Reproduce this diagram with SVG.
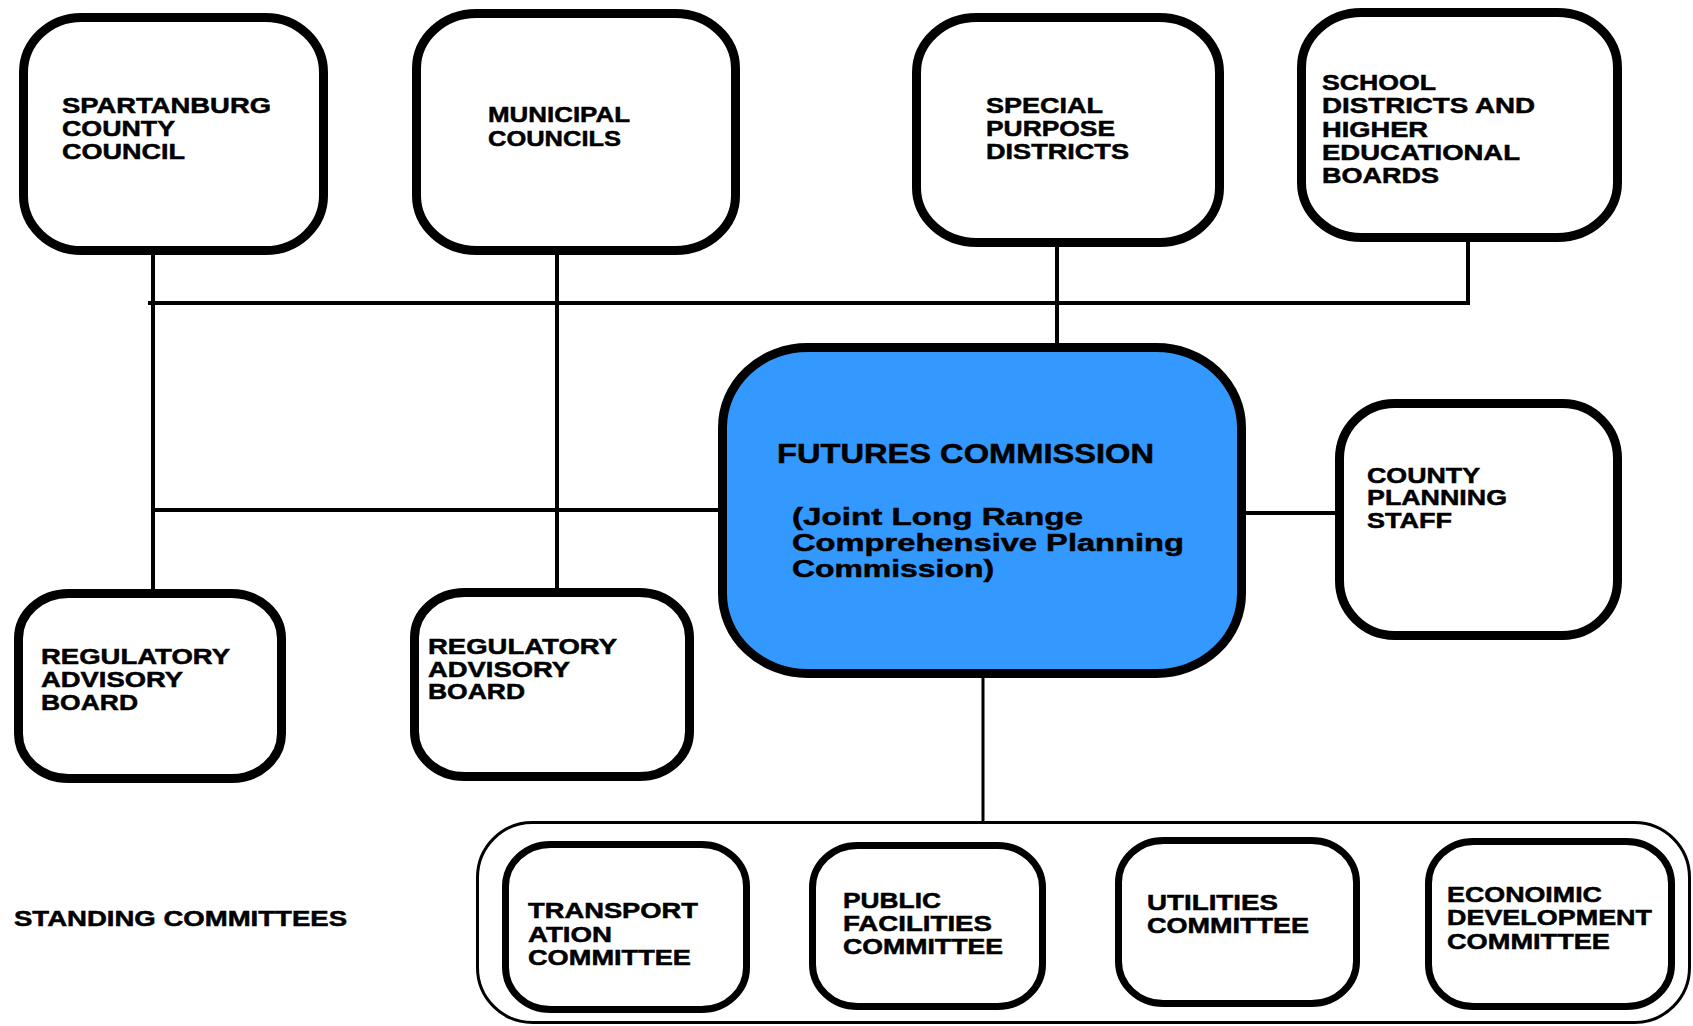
<svg xmlns="http://www.w3.org/2000/svg" width="1693" height="1026" viewBox="0 0 1693 1026">
<style>
.box{fill:#fff;stroke:#000;stroke-width:9}
.cbox{fill:#fff;stroke:#000;stroke-width:7}
.fut{fill:#3399ff;stroke:#000;stroke-width:9}
.outer{fill:none;stroke:#000;stroke-width:3}
.ln{stroke:#000;stroke-width:4;fill:none}
text{font-family:"Liberation Sans",Arial,sans-serif;font-weight:bold;font-size:22px;fill:#000;stroke:#000;stroke-width:0.5}
.big{font-size:27px}
.mid{font-size:24px}
</style>
<rect width="1693" height="1026" fill="#fff"/>
<g id="connectors">
<line class="ln" x1="148" y1="303" x2="1468" y2="303"/>
<line class="ln" x1="153" y1="255" x2="153" y2="592"/>
<line class="ln" x1="557" y1="245" x2="557" y2="590"/>
<line class="ln" x1="1057" y1="247" x2="1057" y2="345"/>
<line class="ln" x1="1468" y1="229" x2="1468" y2="305"/>
<line class="ln" x1="153" y1="510" x2="720" y2="510"/>
<line class="ln" x1="1246" y1="513" x2="1337" y2="513"/>
<line class="ln" style="stroke-width:3" x1="983" y1="668" x2="983" y2="823"/>
</g>
<g id="spartanburg">
<rect class="box" x="23.5" y="17.5" width="300" height="233" rx="58" ry="55"/>
<text x="62" y="113" textLength="209" lengthAdjust="spacingAndGlyphs">SPARTANBURG</text>
<text x="62" y="136" textLength="113" lengthAdjust="spacingAndGlyphs">COUNTY</text>
<text x="62" y="159" textLength="123" lengthAdjust="spacingAndGlyphs">COUNCIL</text>
</g>
<g id="municipal">
<rect class="box" x="416.5" y="13.5" width="319" height="237" rx="60" ry="55"/>
<text x="488" y="122" textLength="142" lengthAdjust="spacingAndGlyphs">MUNICIPAL</text>
<text x="488" y="146" textLength="133" lengthAdjust="spacingAndGlyphs">COUNCILS</text>
</g>
<g id="special">
<rect class="box" x="916.5" y="17.5" width="303" height="225" rx="60" ry="55"/>
<text x="986" y="113" textLength="117" lengthAdjust="spacingAndGlyphs">SPECIAL</text>
<text x="986" y="136" textLength="129" lengthAdjust="spacingAndGlyphs">PURPOSE</text>
<text x="986" y="159" textLength="143" lengthAdjust="spacingAndGlyphs">DISTRICTS</text>
</g>
<g id="school">
<rect class="box" x="1301.5" y="12.5" width="316" height="225" rx="60" ry="55"/>
<text x="1322" y="90" textLength="114" lengthAdjust="spacingAndGlyphs">SCHOOL</text>
<text x="1322" y="113" textLength="213" lengthAdjust="spacingAndGlyphs">DISTRICTS AND</text>
<text x="1322" y="137" textLength="106" lengthAdjust="spacingAndGlyphs">HIGHER</text>
<text x="1322" y="160" textLength="198" lengthAdjust="spacingAndGlyphs">EDUCATIONAL</text>
<text x="1322" y="183" textLength="117" lengthAdjust="spacingAndGlyphs">BOARDS</text>
</g>
<g id="futures">
<rect class="fut" x="722.5" y="347.5" width="519" height="326" rx="85" ry="80"/>
<text class="big" x="777" y="463" textLength="377" lengthAdjust="spacingAndGlyphs">FUTURES COMMISSION</text>
<text class="mid" x="792" y="525" textLength="291" lengthAdjust="spacingAndGlyphs">(Joint Long Range</text>
<text class="mid" x="792" y="551" textLength="392" lengthAdjust="spacingAndGlyphs">Comprehensive Planning</text>
<text class="mid" x="792" y="577" textLength="202" lengthAdjust="spacingAndGlyphs">Commission)</text>
</g>
<g id="county-planning">
<rect class="box" x="1339.5" y="403.5" width="278" height="232" rx="55" ry="55"/>
<text x="1367" y="483" textLength="113" lengthAdjust="spacingAndGlyphs">COUNTY</text>
<text x="1367" y="505" textLength="140" lengthAdjust="spacingAndGlyphs">PLANNING</text>
<text x="1367" y="528" textLength="85" lengthAdjust="spacingAndGlyphs">STAFF</text>
</g>
<g id="regulatory-1">
<rect class="box" x="18.5" y="593.5" width="263" height="185" rx="50" ry="45"/>
<text x="41" y="664" textLength="189" lengthAdjust="spacingAndGlyphs">REGULATORY</text>
<text x="41" y="687" textLength="142" lengthAdjust="spacingAndGlyphs">ADVISORY</text>
<text x="41" y="710" textLength="97" lengthAdjust="spacingAndGlyphs">BOARD</text>
</g>
<g id="regulatory-2">
<rect class="box" x="414.5" y="592.5" width="275" height="184" rx="50" ry="45"/>
<text x="428" y="654" textLength="189" lengthAdjust="spacingAndGlyphs">REGULATORY</text>
<text x="428" y="677" textLength="142" lengthAdjust="spacingAndGlyphs">ADVISORY</text>
<text x="428" y="699" textLength="97" lengthAdjust="spacingAndGlyphs">BOARD</text>
</g>
<g id="standing-label">
<text x="14" y="926" textLength="333" lengthAdjust="spacingAndGlyphs">STANDING COMMITTEES</text>
</g>
<g id="standing-committees">
<rect class="outer" x="477.5" y="822.5" width="1212" height="200" rx="55" ry="55"/>
</g>
<g id="transportation">
<rect class="cbox" x="505.5" y="844.5" width="241" height="165" rx="45" ry="42"/>
<text x="528" y="918" textLength="170" lengthAdjust="spacingAndGlyphs">TRANSPORT</text>
<text x="528" y="942" textLength="84" lengthAdjust="spacingAndGlyphs">ATION</text>
<text x="528" y="965" textLength="163" lengthAdjust="spacingAndGlyphs">COMMITTEE</text>
</g>
<g id="public-facilities">
<rect class="cbox" x="812.5" y="845.5" width="230" height="161" rx="45" ry="42"/>
<text x="843" y="908" textLength="98" lengthAdjust="spacingAndGlyphs">PUBLIC</text>
<text x="843" y="931" textLength="149" lengthAdjust="spacingAndGlyphs">FACILITIES</text>
<text x="843" y="954" textLength="160" lengthAdjust="spacingAndGlyphs">COMMITTEE</text>
</g>
<g id="utilities">
<rect class="cbox" x="1118.5" y="840.5" width="238" height="163" rx="45" ry="42"/>
<text x="1147" y="910" textLength="131" lengthAdjust="spacingAndGlyphs">UTILITIES</text>
<text x="1147" y="933" textLength="162" lengthAdjust="spacingAndGlyphs">COMMITTEE</text>
</g>
<g id="economic">
<rect class="cbox" x="1428.5" y="841.5" width="243" height="165" rx="45" ry="42"/>
<text x="1447" y="902" textLength="155" lengthAdjust="spacingAndGlyphs">ECONOIMIC</text>
<text x="1447" y="925" textLength="205" lengthAdjust="spacingAndGlyphs">DEVELOPMENT</text>
<text x="1447" y="949" textLength="163" lengthAdjust="spacingAndGlyphs">COMMITTEE</text>
</g>
</svg>
